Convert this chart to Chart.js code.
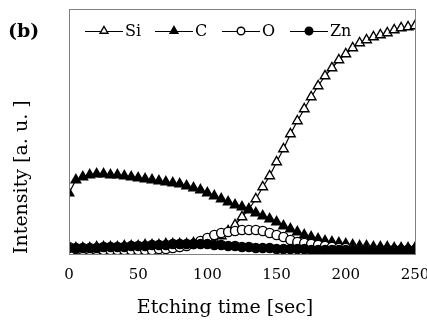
<!DOCTYPE html>
<html>
<head>
<meta charset="utf-8">
<script src="https://cdn.jsdelivr.net/npm/chart.js@4"></script>
<style>
  html, body { margin: 0; padding: 0; background: #fff; }
</style>
</head>
<body>
<canvas id="depthChart" width="427" height="320"></canvas>
<script>
// etching time [sec], one sample every 5 s
const times = [0,5,10,15,20,25,30,35,40,45,50,55,60,65,70,75,80,85,90,95,
  100,105,110,115,120,125,130,135,140,145,150,155,160,165,170,175,180,185,190,195,
  200,205,210,215,220,225,230,235,240,245,250];
const si = [6,6,6,6,7,7,7,7,8,8, 8,9,9,9,10,10,10,10,11,11,
  12,14,18,23,29,37,45,55,67,78, 92,105,120,133,145,157,168,178,186,194,
  200,206,211,214,217,219,221,224,226,227,228];
const c = [61,74,77,79,80,80,79,79,78,77, 76,75,74,73,72,71,70,68,66,64,
  61,58,55,52,49,47,44,41,38,35, 32,28,25,22,19,17,15,13,12,11,
  10,9,8,8,7,7,7,6,6,6,6];
const o = [7,5,4,4,4,4,4,4,4,4, 4,4,4,5,5,6,7,8,10,13,
  16,19,21,22,23,24,24,24,23,21, 19,17,14,12,11,10,9,8,7,6,
  6,5,5,5,4,4,4,4,4,4,4];
const zn = [6,6,6,6,6,7,7,7,7,8, 8,8,9,9,9,10,10,10,10,10,
  10,9,9,8,8,7,7,6,6,6, 5,5,5,5,5,4,4,4,4,4,
  4,4,4,4,4,4,4,4,4,4,4];
const xTicks = [0, 50, 100, 150, 200, 250];

const serif = "'DejaVu Serif', 'Liberation Serif', serif";

function toPoints(values) {
    return times.map((t, i) => ({ x: t, y: values[i] }));
}

function series(label, values, style, fill, order) {
    return {
        label: label,
        data: toPoints(values),
        borderColor: '#000',
        borderWidth: 1.2,
        pointStyle: style,
        pointRadius: style === 'triangle' ? 5.5 : 4.6,
        pointBorderWidth: 1.4,
        pointBorderColor: '#000',
        pointBackgroundColor: fill,
        order: order
    };
}

// box round the plot, legend inside it, panel letter and x title
const decorations = {
    id: 'decorations',
    afterDraw(chart) {
        const ctx = chart.ctx;
        const a = chart.chartArea;
        ctx.save();
        ctx.strokeStyle = '#808080';
        ctx.lineWidth = 1;
        ctx.strokeRect(Math.round(a.left) + 0.5, Math.round(a.top) + 0.5,
            Math.round(a.right - a.left), Math.round(a.bottom - a.top));

        // legend
        const starts = [85, 155, 222, 290];
        const y = 31;
        ctx.font = '16px ' + serif;
        ctx.textBaseline = 'alphabetic';
        ctx.textAlign = 'left';
        chart.data.datasets.forEach((ds, i) => {
            const x0 = starts[i];
            ctx.strokeStyle = '#000';
            ctx.lineWidth = 1.2;
            ctx.beginPath();
            ctx.moveTo(x0, y + 0.5);
            ctx.lineTo(x0 + 38, y + 0.5);
            ctx.stroke();
            ctx.fillStyle = ds.pointBackgroundColor;
            ctx.strokeStyle = '#000';
            ctx.lineWidth = 1.4;
            Chart.helpers.drawPoint(ctx, {
                pointStyle: ds.pointStyle,
                radius: ds.pointStyle === 'triangle' ? 4.5 : 3.8,
                borderWidth: 1.4,
                rotation: 0
            }, x0 + 19, y);
            ctx.fillStyle = '#000';
            ctx.fillText(ds.label, x0 + 40, y + 5);
        });

        ctx.font = 'bold 19px ' + serif;
        ctx.fillText('(b)', 8, 37);

        ctx.font = '19px ' + serif;
        ctx.textAlign = 'center';
        ctx.textBaseline = 'middle';
        ctx.fillText('Etching time [sec]', 225, 308);
        ctx.restore();
    }
};

document.addEventListener('DOMContentLoaded', function() {
    const ctx = document.getElementById('depthChart').getContext('2d');
    new Chart(ctx, {
        type: 'line',
        data: {
            datasets: [
                series('Si', si, 'triangle', '#fff', 3),
                series('C', c, 'triangle', '#000', 2),
                series('O', o, 'circle', '#fff', 1),
                series('Zn', zn, 'circle', '#000', 0)
            ]
        },
        options: {
            responsive: false,
            animation: false,
            devicePixelRatio: 1,
            layout: { padding: { top: 9, right: 12, left: 0, bottom: 0 } },
            plugins: {
                legend: { display: false },
                tooltip: { enabled: false }
            },
            scales: {
                x: {
                    type: 'linear',
                    min: 0,
                    max: 250,
                    grid: { display: false, drawTicks: false },
                    border: { display: false },
                    ticks: {
                        color: '#000',
                        padding: 12,
                        maxRotation: 0,
                        font: { family: serif, size: 15 }
                    },
                    afterBuildTicks: function(scale) {
                        scale.ticks = xTicks.map(v => ({ value: v }));
                    },
                    afterFit: function(scale) {
                        scale.height = 66;
                        scale.paddingLeft = 0;
                        scale.paddingRight = 0;
                    }
                },
                y: {
                    min: 0,
                    max: 245,
                    grid: { display: false },
                    border: { display: false },
                    ticks: { display: false },
                    title: {
                        display: true,
                        text: 'Intensity [a. u. ]',
                        align: 'start',
                        color: '#000',
                        font: { family: serif, size: 19, weight: 'normal' },
                        padding: { top: 11, bottom: 0 }
                    },
                    afterFit: function(scale) {
                        scale.width = 69;
                    }
                }
            }
        },
        plugins: [decorations]
    });
});
</script>
</body>
</html>
